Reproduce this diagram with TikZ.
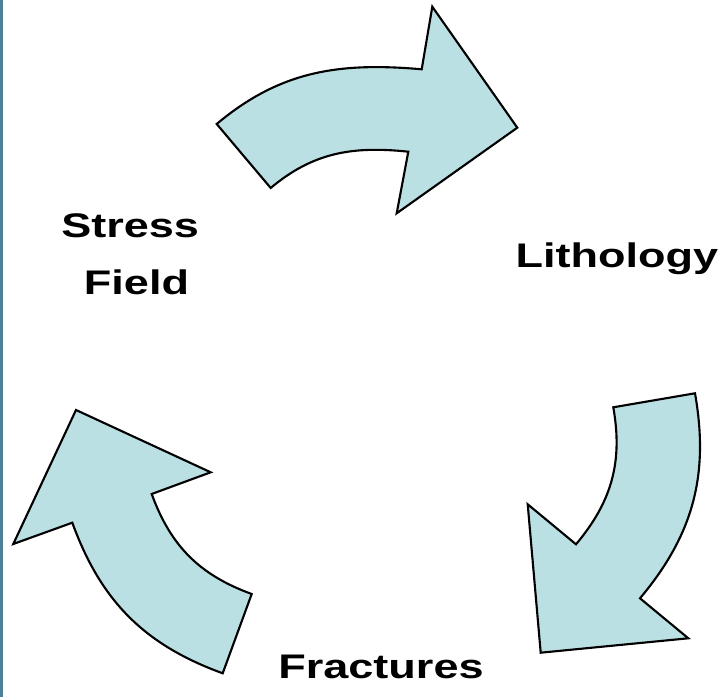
\documentclass[tikz,border=0pt]{standalone}
\usepackage{graphicx}
\usepackage{fontspec}
\newfontfamily\lblfont{Liberation Sans}
\usetikzlibrary{positioning}
\definecolor{arrowfill}{RGB}{187,224,227}
\definecolor{slideedge}{RGB}{74,128,153}
\newcommand\widetext[1]{\scalebox{1.32}[1]{#1}}
\tikzset{%
	cyclearrow/.style = {draw=black, fill=arrowfill, line width=0.6pt, line join=miter},
	cyclelabel/.style = {font=\lblfont\bfseries\fontsize{9.7}{16.4}\selectfont, inner sep=0pt, anchor=base},
}

\begin{document}
\begin{tikzpicture}[x=0.01cm,y=0.01cm]
	\useasboundingbox (0,0) rectangle (727,697);
	\fill[slideedge] (0,0) rectangle (3,697); % left edge of slide
	
	% top arrow
	\draw[cyclearrow] (216.7,573) to[out=40,in=175] (421.7,627.7) -- (432.3,690.3) -- (517.3,569.3) -- (396.7,483.7) -- (408.3,545.3) to[out=174,in=40] (270.7,509) -- cycle;
	% right arrow
	\draw[cyclearrow] (695,303.7) to[out=-80,in=50] (640,98.7) -- (688.3,58.7) -- (540.7,44.3) -- (527.7,192.7) -- (576,152.7) to[out=50,in=-80] (613.3,289.7) -- cycle;
	% left arrow
	\draw[cyclearrow] (72.3,174.3) to[out=-70,in=160] (222.7,23.7) -- (251.7,103) to[out=160,in=-70] (151.7,203) -- (210.7,224.7) -- (76,287) -- (13.3,153) -- cycle;
	
	\node[cyclelabel, align=center] (stress) at (136.5,402) {\widetext{Stress\hspace*{0.28em}}\\\widetext{Field}}; % base = last line
	\node[cyclelabel] (litho) at (616.8,429.7) {\widetext{Lithology}};
	\node[cyclelabel] (frac) at (381,18.7) {\widetext{Fractures}};
\end{tikzpicture}
\end{document}
